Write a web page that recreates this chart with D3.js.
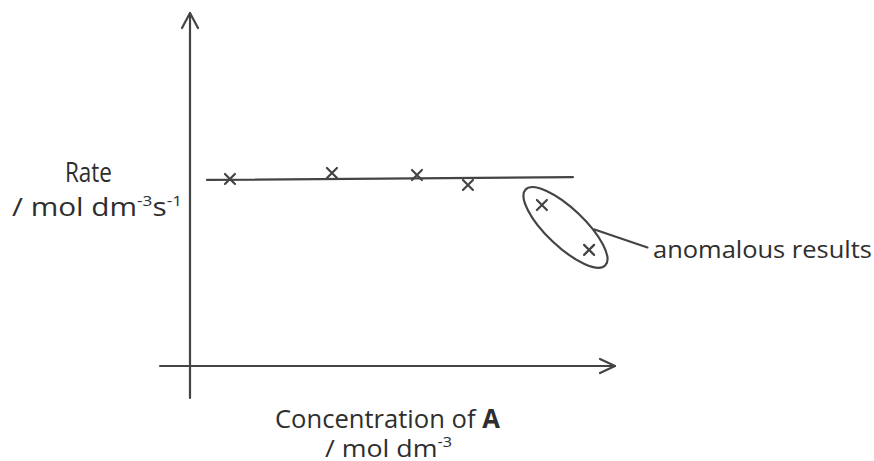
<!DOCTYPE html>
<html><head><meta charset="utf-8">
<script src="https://cdn.jsdelivr.net/npm/d3@7"></script>
<style>
html,body{margin:0;padding:0;background:#fff;}
svg{display:block;}
text{font-family:"Open Sans","Noto Sans",sans-serif;fill:#2e2e2e;}
</style></head>
<body>
<svg id="chart" width="874" height="461"></svg>
<script>
// ---- data ----
const concentration = [0.94, 3.34, 5.34, 6.54, 8.28, 9.39];
const rate          = [5.30, 5.47, 5.41, 5.13, 4.56, 3.29];
const anomalous     = [false, false, false, false, true, true];
const fitX = [0.4, 9.01];
const fitY = [5.27, 5.35];
const yLabel = ["Rate", "/ mol dm", "-3", "s", "-1"];
const xLabel = ["Concentration of ", "A", "/ mol dm", "-3"];
const noteLabel = "anomalous results";

// ---- layout ----
const svg = d3.select("#chart");
const ink = "#444";
const x = d3.scaleLinear().domain([0, 10]).range([190, 615]);
const y = d3.scaleLinear().domain([0, 10]).range([366, 13]);

const g = svg.append("g").attr("fill","none").attr("stroke",ink).attr("stroke-width",2.2).attr("stroke-linecap","round");
g.append("line").attr("x1", x(0)).attr("x2", x(0)).attr("y1", y(0) + 32).attr("y2", y(10));
g.append("path").attr("d", `M${x(0)-8},${y(10)+15} L${x(0)},${y(10)} L${x(0)+8},${y(10)+15}`).attr("stroke-linejoin","round");
g.append("line").attr("x1", x(0) - 30).attr("x2", x(10)).attr("y1", y(0)).attr("y2", y(0));
g.append("path").attr("d", `M${x(10)-15},${y(0)-7} L${x(10)},${y(0)} L${x(10)-15},${y(0)+7}`).attr("stroke-linejoin","round");

// best fit line
g.append("line").attr("x1", x(fitX[0])).attr("x2", x(fitX[1])).attr("y1", y(fitY[0])).attr("y2", y(fitY[1]));

// points
const pts = concentration.map((c,i)=>({cx:x(c), cy:y(rate[i]), a:anomalous[i]}));
const s = 5;
g.selectAll("path.pt").data(pts).enter().append("path").attr("class","pt")
  .attr("d", d=>`M${d.cx-s},${d.cy-s}L${d.cx+s},${d.cy+s}M${d.cx-s},${d.cy+s}L${d.cx+s},${d.cy-s}`);

// ellipse around anomalous points
const an = pts.filter(d=>d.a);
const mx = d3.mean(an, d=>d.cx), my = d3.mean(an, d=>d.cy);
const ang = Math.atan2(an[1].cy-an[0].cy, an[1].cx-an[0].cx);
g.append("ellipse").attr("cx", mx).attr("cy", my).attr("rx", 55).attr("ry", 19)
  .attr("transform", `rotate(${ang*180/Math.PI},${mx},${my})`);

// leader line
const lx0 = mx + 29, ly0 = my + 2;
g.append("line").attr("x1", lx0).attr("y1", ly0).attr("x2", lx0 + 53).attr("y2", ly0 + 18);

// helper: fit a text horizontally into [x0, x0+w]
function fit(t, x0, w) {
  const b = t.node().getBBox();
  const k = w / b.width;
  t.attr("transform", `translate(${x0},0) scale(${k},1) translate(${-b.x},0)`);
}

// labels
const tn = svg.append("text").attr("x", 0).attr("y", 258).attr("font-size", 24).text(noteLabel);
fit(tn, 653, 219);

const t1 = svg.append("text").attr("x", 0).attr("y", 182).attr("font-size", 27).text(yLabel[0]);
fit(t1, 65, 47);
const t2 = svg.append("text").attr("x", 0).attr("y", 216).attr("font-size", 26);
t2.append("tspan").text(yLabel[1]);
t2.append("tspan").attr("dy", -10).attr("font-size", 15).text(yLabel[2]);
t2.append("tspan").attr("dy", 10).text(yLabel[3]);
t2.append("tspan").attr("dy", -10).attr("font-size", 15).text(yLabel[4]);
fit(t2, 12, 170);

const t3 = svg.append("text").attr("x", 0).attr("y", 428).attr("font-size", 26);
t3.append("tspan").text(xLabel[0]);
t3.append("tspan").attr("font-weight","bold").text(xLabel[1]);
fit(t3, 275, 225);
const t4 = svg.append("text").attr("x", 0).attr("y", 457).attr("font-size", 23);
t4.append("tspan").text(xLabel[2]);
t4.append("tspan").attr("dy", -10).attr("font-size", 14).text(xLabel[3]);
fit(t4, 325, 127);
</script>
</body></html>
